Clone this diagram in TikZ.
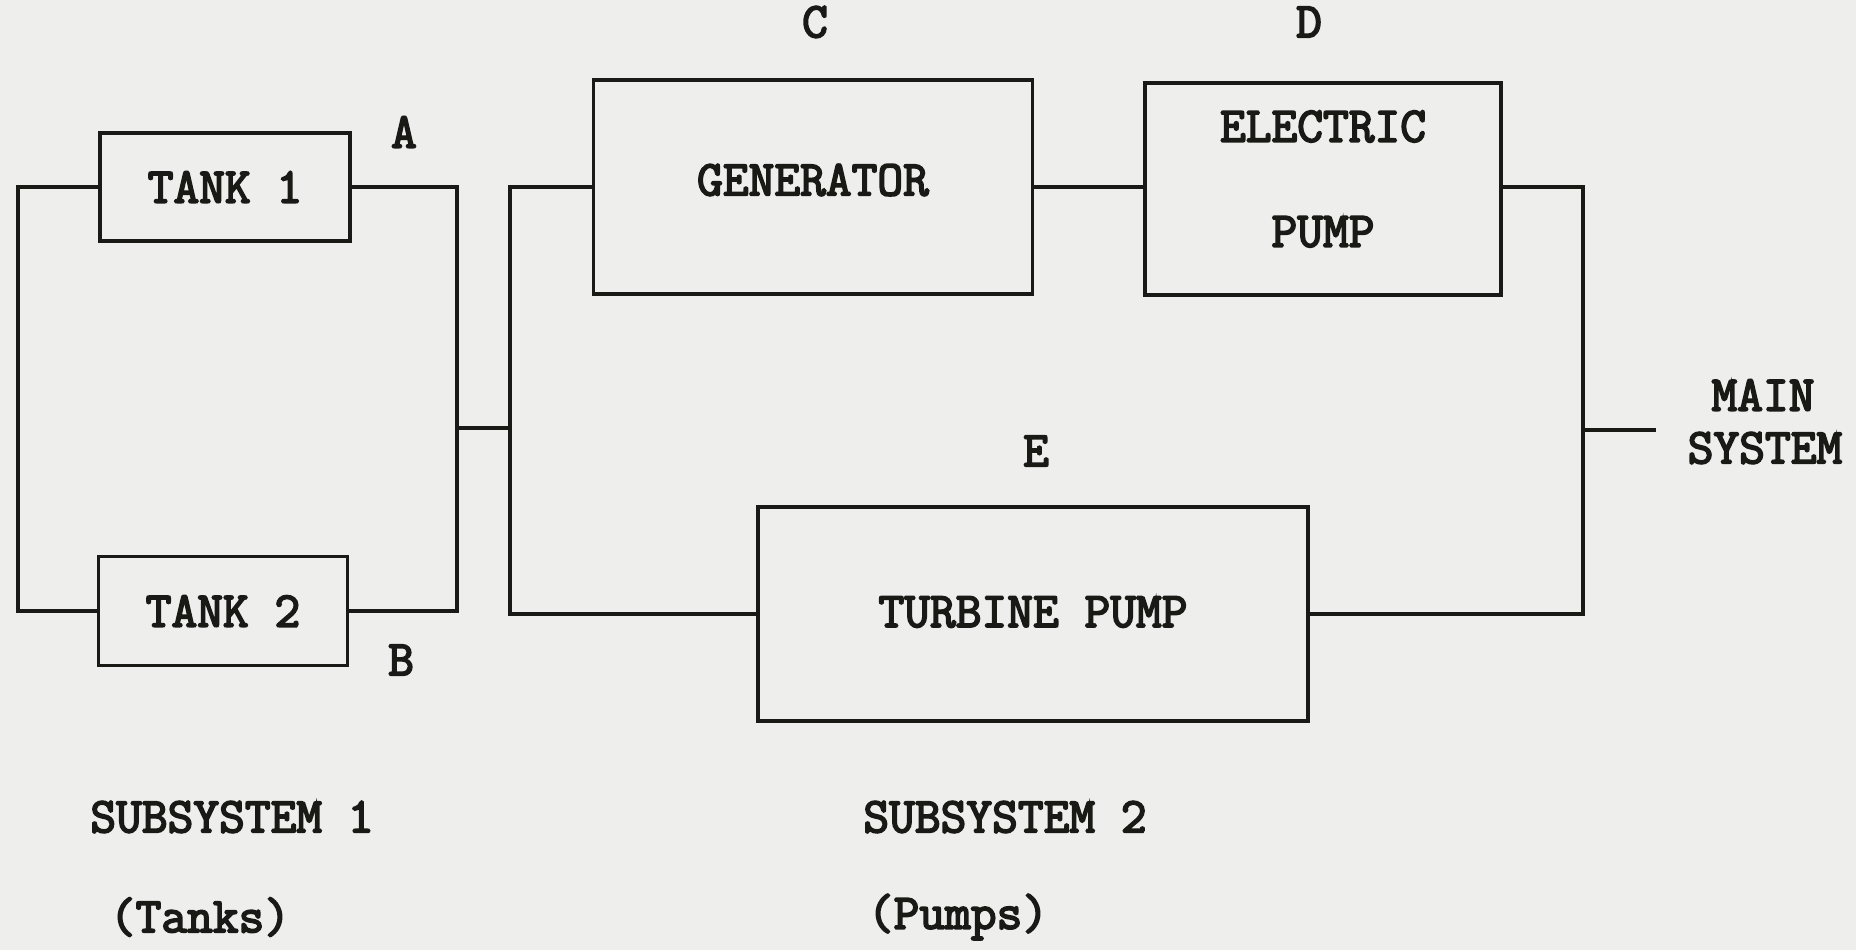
\documentclass[tikz,border=0pt]{standalone}
\usepackage{fontspec}
\setmonofont[AutoFakeBold=3.5]{Latin Modern Mono}
\definecolor{paper}{RGB}{238,239,236}
\definecolor{ink}{RGB}{25,25,22}
\newcommand{\liftby}[2]{\raisebox{#1}[\height][\depth]{#2}}
\begin{document}
\begin{tikzpicture}[x=1pt,y=-1pt,
  lbl/.style={font=\ttfamily\bfseries\fontsize{50}{58}\selectfont, text=ink, inner sep=0pt},
  blk/.style={draw=ink, line width=3.8pt, inner sep=0pt, font=\ttfamily\bfseries\fontsize{50}{58}\selectfont, text=ink, align=center},
  wire/.style={draw=ink, line width=3.5pt}]
\fill[paper] (0,0) rectangle (1856,950);
\useasboundingbox (0,0) rectangle (1856,950);
% blocks
\node[blk, minimum width=250pt, minimum height=108pt] (t1) at (225,187) {TANK 1};
\node[blk, minimum width=249pt, minimum height=109pt] (t2) at (223,611) {TANK 2};
\node[blk, minimum width=439pt, minimum height=214pt] (gen) at (813,187) {\liftby{7pt}{GENERATOR}};
\node[blk, minimum width=356pt, minimum height=212pt, font=\ttfamily\bfseries\fontsize{50}{105}\selectfont] (ep) at (1323,189) {\liftby{10pt}{ELECTRIC}\\\liftby{10pt}{PUMP}};
\node[blk, minimum width=550pt, minimum height=214pt] (tp) at (1033,614) {\liftby{2pt}{TURBINE PUMP}};
% bus coordinates
\coordinate (l1) at (18,187);
\coordinate (l2) at (18,611);
\coordinate (r1) at (457,187);
\coordinate (r2) at (457,611);
\coordinate (rm) at (457,428);
\coordinate (pm) at (510,428);
\coordinate (p1) at (510,187);
\coordinate (p2) at (510,614);
\coordinate (q1) at (1583,187);
\coordinate (q2) at (1583,614);
\coordinate (qm) at (1583,430);
\coordinate (out) at (1656,430);
% wires
\draw[wire] (t1.west) -- (l1) -- (l2) -- (t2.west);
\draw[wire] (t1.east) -- (r1) -- (r2) -- (t2.east);
\draw[wire] (rm) -- (pm);
\draw[wire] (gen.west) -- (p1) -- (p2) -- (tp.west);
\draw[wire] (gen.east) -- (gen.east -| ep.west);
\draw[wire] (ep.east |- q1) -- (q1) -- (q2) -- (tp.east);
\draw[wire] (qm) -- (out);
% labels
\node[lbl] (la) at (404,132) {A};
\node[lbl] (lb) at (401,660) {B};
\node[lbl] (lc) at (815,22) {C};
\node[lbl] (ld) at (1309,22) {D};
\node[lbl] (le) at (1036,451) {E};
\node[lbl] (main) at (1763,395) {MAIN};
\node[lbl] (sys) at (1765,448) {SYSTEM};
\node[lbl] (s1) at (232,817) {SUBSYSTEM 1};
\node[lbl] (s1b) at (200,917) {(Tanks)};
\node[lbl] (s2) at (1005,817) {SUBSYSTEM 2};
\node[lbl] (s2b) at (958,917) {(Pumps)};
\end{tikzpicture}
\end{document}
